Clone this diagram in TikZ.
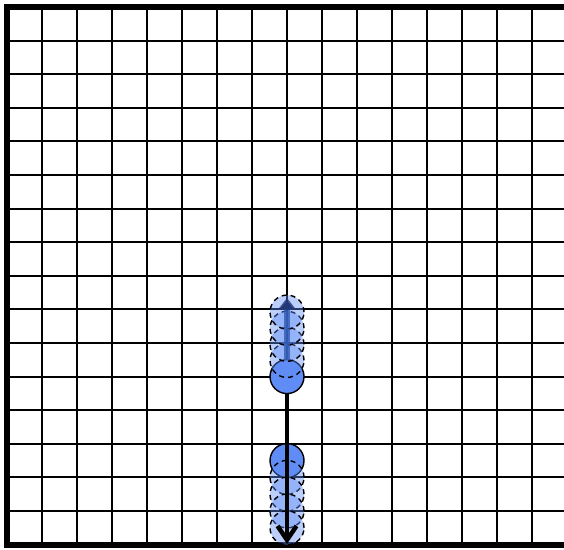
\documentclass[tikz,border=0pt]{standalone}
\usetikzlibrary{arrows.meta}
\definecolor{ballblue}{RGB}{95,140,245}
\definecolor{shaftblue}{RGB}{50,90,180}
\definecolor{headnavy}{RGB}{35,55,120}
\tikzset{
  gridline/.style={line width=2pt, black},
  border/.style={line width=6pt, black},
  ball/.style={circle, draw=black, line width=1.4pt, fill=ballblue, minimum size=34pt, inner sep=0pt},
  ghost/.style={circle, draw=black, line width=1.4pt, dash pattern=on 5pt off 4pt, fill=ballblue, fill opacity=0.42, draw opacity=1, minimum size=34pt, inner sep=0pt},
  velarrow/.style={line width=5.5pt, draw=shaftblue, draw opacity=0.8, -{Triangle[length=12pt,width=18pt,color=headnavy]}},
  motionarrow/.style={line width=4.5pt, black, -{Straight Barb[length=14pt,width=19pt]}}
}
\begin{document}
\begin{tikzpicture}[x=35pt, y=33.6pt]
\useasboundingbox (-0.2,-0.131) rectangle (15.914,16.208);
% grid
\draw[gridline, step={(1,1)}] (0,0) grid (15.914,16);
% borders
\draw[border] (15.914,16) -- (0,16) -- (0,0) -- (15.914,0);
% solid balls
\node[ball] (top) at (8,5) {};
\node[ball] (low) at (8,2.5) {};
% ghosts
\node[ghost] (g1) at (8,5.48) {};
\node[ghost] (g2) at (8,5.96) {};
\node[ghost] (g3) at (8,6.44) {};
\node[ghost] (g4) at (8,6.92) {};
\node[ghost] (g5) at (8,2) {};
\node[ghost] (g6) at (8,1.5) {};
\node[ghost] (g7) at (8,1) {};
\node[ghost] (g8) at (8,0.5) {};
% arrows
\coordinate (vtip) at (8,7.34);
\coordinate (btip) at (8,0.02);
\draw[velarrow] (top) -- (vtip);
\draw[motionarrow] (top) -- (btip);
\end{tikzpicture}
\end{document}
